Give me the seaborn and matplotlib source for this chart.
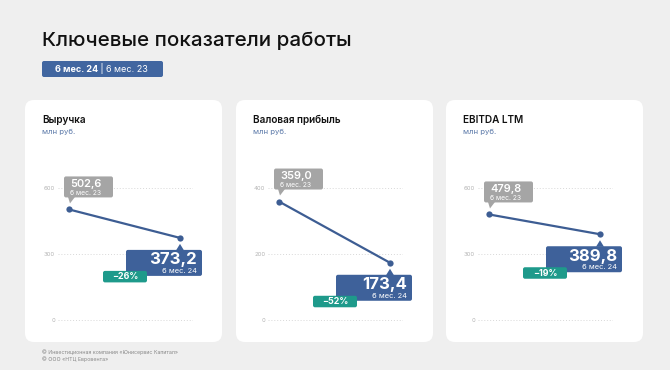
import matplotlib
matplotlib.use("Agg")
import matplotlib.pyplot as plt
from matplotlib.patches import FancyBboxPatch, Polygon
import seaborn as sns
import pandas as pd

# ---- data ----
metrics = ["Выручка", "Валовая прибыль", "EBITDA LTM"]
periods = ["6 мес. 23", "6 мес. 24"]
values_23 = [502.6, 359.0, 479.8]
values_24 = [373.2, 173.4, 389.8]
changes = ["−26%", "−52%", "−19%"]
tick_sets = [[0, 300, 600], [0, 200, 400], [0, 300, 600]]
unit_label = "млн руб."
title = "Ключевые показатели работы"
badge_bold = "6 мес. 24"
badge_rest = " | 6 мес. 23"
footer = ["© Инвестиционная компания «Юнисервис Капитал»", "© ООО «НТЦ Евровента»"]

# ---- style ----
BG = "#efefef"
BLUE = "#3e619a"
LINE = "#3d5d93"
GREY = "#a5a5a5"
TEAL = "#1e9a8b"
SUB = "#5a78a8"

sns.set_theme(style="white")
plt.rcParams["font.family"] = ["Inter", "DejaVu Sans"]

W, H = 670, 370
fig = plt.figure(figsize=(W / 100, H / 100), dpi=100, facecolor=BG)


def fx(x):
    return x / W


def fy(y):
    return 1 - y / H


def rbox(x0, y0, x1, y1, color, r, z):
    p = FancyBboxPatch((x0 / 100, (H - y1) / 100), (x1 - x0) / 100, (y1 - y0) / 100,
                       boxstyle=f"round,pad=0,rounding_size={r / 100}",
                       transform=fig.dpi_scale_trans, fc=color, ec="none", zorder=z)
    fig.add_artist(p)


def tri(pts, color, z):
    p = Polygon([(x / 100, (H - y) / 100) for x, y in pts], closed=True,
                transform=fig.dpi_scale_trans, fc=color, ec="none", zorder=z)
    fig.add_artist(p)


# title & badge
fig.text(fx(42), fy(41), title, fontsize=14.8, color="#111111", va="center", ha="left",
         fontweight="medium")
rbox(42, 61, 163, 77, "#4166a0", 2, 1)
t1 = fig.text(fx(55), fy(69), badge_bold, fontsize=6.5, color="white", fontweight="bold",
              va="center", ha="left", zorder=3)
fig.canvas.draw()
bb = t1.get_window_extent()
fig.text(bb.x1 / W, fy(69), badge_rest, fontsize=6.5, color="white", va="center",
         ha="left", zorder=3)

# footer
fig.text(fx(42), fy(352), footer[0], fontsize=3.8, color="#8a8a8a", va="center")
fig.text(fx(42), fy(359), footer[1], fontsize=3.8, color="#8a8a8a", va="center")

panel_left = [25, 236, 446]
axis_left = [58, 268, 478]
PW = 197
AW = 135
AX_TOP, AX_BOT = 150, 325
ZERO_Y, TOP_Y = 320, 188

for i in range(3):
    pl = panel_left[i]
    rbox(pl, 100, pl + PW, 342, "white", 9, -2)
    fig.text(fx(pl + 17), fy(120), metrics[i], fontsize=7.2, color="#111111",
             fontweight="semibold", va="center")
    fig.text(fx(pl + 17), fy(131.5), unit_label, fontsize=5.6, color=SUB, va="center")

    al = axis_left[i]
    ax = fig.add_axes([fx(al), fy(AX_BOT), AW / W, (AX_BOT - AX_TOP) / H])
    ax.set_facecolor("none")
    df = pd.DataFrame({"pos": [0, 1], "value": [values_23[i], values_24[i]],
                       "period": periods})
    sns.lineplot(data=df, x="pos", y="value", ax=ax, color=LINE, lw=1.6, marker="o",
                 markersize=4.5, markeredgewidth=0, zorder=3)
    top = tick_sets[i][-1]
    u = top / (ZERO_Y - TOP_Y)
    ax.set_ylim(-(AX_BOT - ZERO_Y) * u, (ZERO_Y - AX_TOP) * u)
    ax.set_xlim(-11 / 111, 1 + 13 / 111)
    ax.set_yticks(tick_sets[i])
    ax.set_yticklabels([str(t) for t in tick_sets[i]], fontsize=4.3, color="#b5b5b5")
    ax.set_xticks([])
    ax.set_xlabel("")
    ax.set_ylabel("")
    ax.tick_params(axis="y", length=0, pad=2)
    for s in ax.spines.values():
        s.set_visible(False)
    ax.yaxis.grid(True, linestyle=(0, (1, 2)), color="#d8d8d8", lw=0.7)
    ax.set_axisbelow(True)

    # annotation positions from data via the axes transform
    d0 = ax.transData.transform((0, values_23[i]))
    d1 = ax.transData.transform((1, values_24[i]))
    x0, y0 = d0[0], H - d0[1]
    x1, y1 = d1[0], H - d1[1]

    # grey label (previous period)
    gb_top, gb_bot = y0 - 33, y0 - 12
    rbox(x0 - 5, gb_top, x0 + 44, gb_bot, GREY, 2, 5)
    tri([(x0 - 1, gb_bot - 0.5), (x0 + 6, gb_bot - 0.5), (x0 + 1, y0 - 6)], GREY, 5)
    fig.text(fx(x0 + 1), fy(gb_top + 7.5), f"{values_23[i]:.1f}".replace(".", ","),
             fontsize=7.9, color="white", fontweight="semibold", va="center", ha="left",
             zorder=6)
    fig.text(fx(x0 + 1), fy(gb_top + 16.5), periods[0], fontsize=4.8, color="white",
             va="center", ha="left", zorder=6)

    # blue label (current period)
    bb_top, bb_bot = y1 + 12, y1 + 38
    rbox(x1 - 54, bb_top, x1 + 22, bb_bot, BLUE, 2, 5)
    tri([(x1 - 4, bb_top + 0.5), (x1 + 4, bb_top + 0.5), (x1, y1 + 6)], BLUE, 5)
    fig.text(fx(x1 + 17), fy(bb_top + 10), f"{values_24[i]:.1f}".replace(".", ","),
             fontsize=12, color="white", fontweight="bold", va="center", ha="right",
             zorder=6)
    fig.text(fx(x1 + 17), fy(bb_top + 21), periods[1], fontsize=5.4, color="white",
             va="center", ha="right", zorder=6)

    # teal change label
    tt = y1 + 33
    rbox(x1 - 77, tt, x1 - 33, tt + 11.5, TEAL, 2, 7)
    fig.text(fx(x1 - 55), fy(tt + 6), changes[i], fontsize=6.4, color="white",
             fontweight="bold", va="center", ha="center", zorder=8)

fig.savefig("out.png", dpi=100, facecolor=BG)
